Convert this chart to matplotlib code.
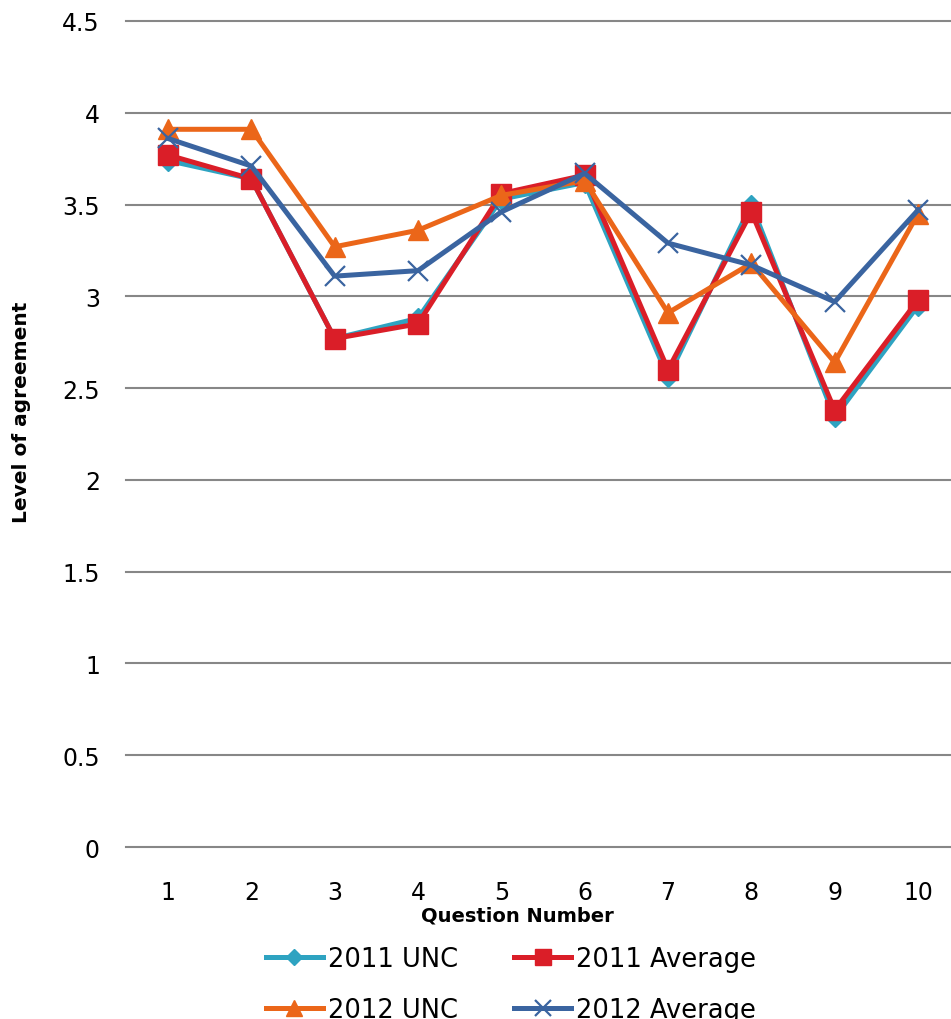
import numpy as np
import matplotlib
matplotlib.use("Agg")
import matplotlib.pyplot as plt

questions = np.arange(1, 11)
unc_2011 = [3.74, 3.64, 2.77, 2.88, 3.53, 3.62, 2.56, 3.50, 2.34, 2.95]
avg_2011 = [3.77, 3.64, 2.77, 2.85, 3.56, 3.66, 2.60, 3.46, 2.38, 2.98]
unc_2012 = [3.91, 3.91, 3.27, 3.36, 3.55, 3.63, 2.91, 3.18, 2.64, 3.45]
avg_2012 = [3.86, 3.71, 3.11, 3.14, 3.46, 3.67, 3.29, 3.17, 2.97, 3.47]
yticks = [0, 0.5, 1, 1.5, 2, 2.5, 3, 3.5, 4, 4.5]

W, H = 951, 1020
fig = plt.figure(figsize=(W / 100, H / 100), dpi=100)
ax = fig.add_axes([126.3 / W, 1 - 848 / H, 833.4 / W, 826 / H])

for y in yticks:
    ax.axhline(y, color="#878787", lw=1.5, zorder=1, clip_on=False)

l1, = ax.plot(questions, unc_2011, color="#2EA3C1", lw=3.6, marker="D", ms=10,
              label="2011 UNC", zorder=2)
l2, = ax.plot(questions, avg_2011, color="#DA1E28", lw=3.6, marker="s", ms=14,
              label="2011 Average", zorder=3)
l3, = ax.plot(questions, unc_2012, color="#EB6619", lw=3.6, marker="^", ms=15,
              label="2012 UNC", zorder=4)
l4, = ax.plot(questions, avg_2012, color="#3A64A0", lw=3.6, marker="x", ms=14,
              mew=1.6, label="2012 Average", zorder=5)

ax.set_xlim(0.5, 10.5)
ax.set_ylim(0, 4.5)
ax.set_xticks(questions)
ax.set_xticklabels([str(q) for q in questions])
ax.set_yticks(yticks)
ax.set_yticklabels([f"{v:g}" for v in yticks])
ax.tick_params(axis="both", length=0, labelsize=17)
ax.tick_params(axis="x", pad=24)
ax.tick_params(axis="y", pad=19)
for s in ax.spines.values():
    s.set_visible(False)

fig.text(517 / W, 1 - 916 / H, "Question Number", ha="center", va="center",
         fontsize=14, fontweight="bold")
fig.text(22 / W, 1 - 412 / H, "Level of agreement", ha="center", va="center",
         rotation=90, fontsize=14.5, fontweight="bold")

# legend fills column-wise, so order handles to read 2011 row / 2012 row
handles = [l1, l3, l2, l4]
fig.legend(handles, [h.get_label() for h in handles], loc="center",
           bbox_to_anchor=(511 / W, 1 - 985.5 / H), ncol=2, frameon=False,
           fontsize=18.5, handlelength=2.2, handletextpad=0.2,
           columnspacing=2.2, labelspacing=0.95, borderpad=0, markerscale=0.8)

fig.savefig("out.png", dpi=100)
